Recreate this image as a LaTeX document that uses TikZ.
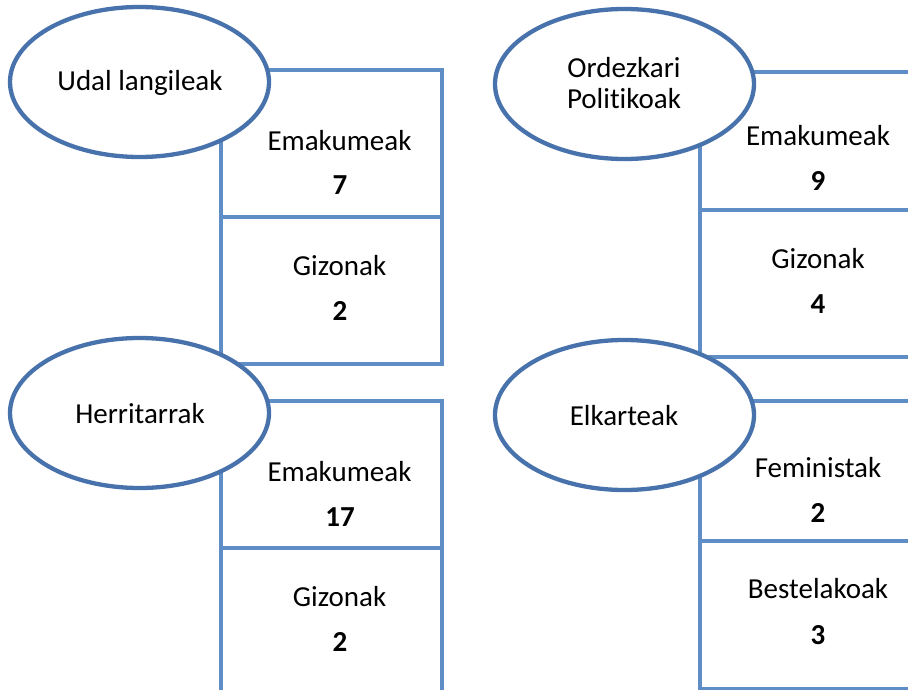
\documentclass[tikz,border=0pt]{standalone}
\usepackage{fontspec}
\setmainfont[Ligatures={NoCommon},RawFeature={-liga;-clig;-dlig}]{Carlito}
\usetikzlibrary{shapes.geometric}
\definecolor{boxc}{RGB}{95,141,198}
\definecolor{ellc}{RGB}{72,114,172}
\tikzset{
  cell/.style={draw=boxc, line width=4pt, anchor=north west, inner sep=0pt, minimum width=#1},
  cell/.default=221pt,
  oval/.style={ellipse, draw=ellc, line width=4.3pt, fill=white, minimum width=259pt, minimum height=150pt, inner sep=0pt},
  txt/.style={anchor=base, inner sep=0pt, font=\fontsize{29}{33}\selectfont},
  num/.style={txt, font=\fontsize{29}{33}\selectfont\bfseries},
}
\begin{document}
\begin{tikzpicture}[x=1pt,y=-1pt]
\useasboundingbox (0,0) rectangle (908,690);
\clip (0,0) rectangle (908,690);
% boxes
\node[cell, minimum height=147pt] (c1a) at (219,68) {};
\node[cell, minimum height=147pt] (c1b) at (219,215) {};
\node[cell=230pt, minimum height=138pt] (c2a) at (698,70) {};
\node[cell=230pt, minimum height=147pt] (c2b) at (698,208) {};
\node[cell, minimum height=147pt] (c3a) at (219,399) {};
\node[cell, minimum height=160pt] (c3b) at (219,546) {};
\node[cell=230pt, minimum height=140pt] (c4a) at (698,399) {};
\node[cell=230pt, minimum height=148pt] (c4b) at (698,539) {};
% ellipses
\node[oval] (e1) at (139.5,82) {};
\node[oval] (e2) at (624.5,84) {};
\node[oval] (e3) at (139.5,413) {};
\node[oval] (e4) at (624.5,415) {};
% ellipse labels
\node[txt] (l1) at (140,91) {Udal langileak};
\node[txt] (l2a) at (624,78) {Ordezkari};
\node[txt] (l2b) at (624,109) {Politikoak};
\node[txt] (l3) at (140,423) {Herritarrak};
\node[txt] (l4) at (624,425) {Elkarteak};
% panel 1
\node[txt] (t1a) at (339.5,150) {Emakumeak};
\node[num] (n1a) at (340,194) {7};
\node[txt] (t1b) at (339.5,275) {Gizonak};
\node[num] (n1b) at (340,320) {2};
% panel 2
\node[txt] (t2a) at (818,146) {Emakumeak};
\node[num] (n2a) at (818,190) {9};
\node[txt] (t2b) at (818,268) {Gizonak};
\node[num] (n2b) at (818,313) {4};
% panel 3
\node[txt] (t3a) at (339.5,481) {Emakumeak};
\node[num] (n3a) at (340,526) {17};
\node[txt] (t3b) at (339.5,606) {Gizonak};
\node[num] (n3b) at (340,651) {2};
% panel 4
\node[txt] (t4a) at (818,477) {Feministak};
\node[num] (n4a) at (818,522) {2};
\node[txt] (t4b) at (818,598) {Bestelakoak};
\node[num] (n4b) at (818,644) {3};
\end{tikzpicture}
\end{document}
